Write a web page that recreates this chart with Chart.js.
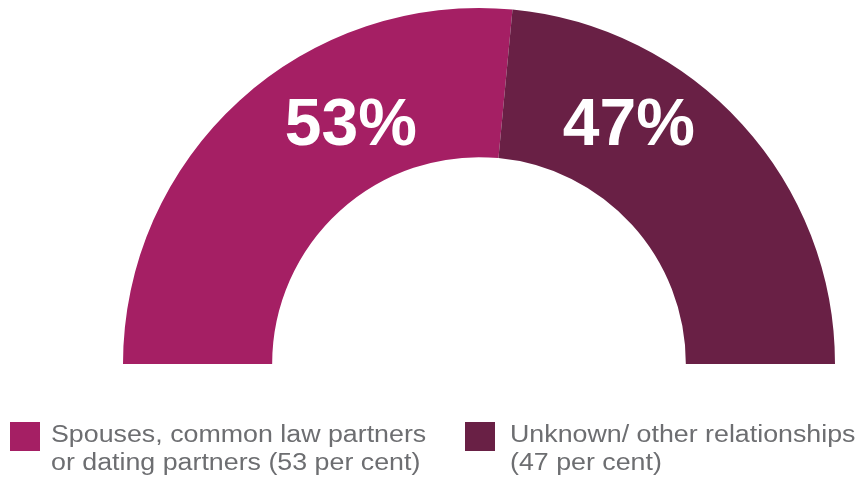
<!DOCTYPE html>
<html>
<head>
<meta charset="utf-8">
<script src="https://cdn.jsdelivr.net/npm/chart.js@4/dist/chart.umd.min.js"></script>
<style>
  html, body { margin: 0; padding: 0; background: #ffffff; }
  #wrap { position: relative; width: 862px; height: 478px; overflow: hidden; }
  #c { position: absolute; left: 0; top: 0; }
  .leg { position: absolute; font-family: "Liberation Sans", Arial, Helvetica, sans-serif; font-size: 23.5px; line-height: 28px; color: #6d6e71; white-space: nowrap; transform: scaleX(1.14); transform-origin: left top; }
  .sw { position: absolute; width: 30px; height: 29px; }
</style>
</head>
<body>
<div id="wrap">
  <canvas id="c" width="862" height="478"></canvas>
  <div id="legend"></div>
</div>
<script>
const categories = ["Spouses, common law partners or dating partners", "Unknown/ other relationships"];
const values = [53, 47];
const valueLabels = ["53%", "47%"];
const legendLines = [
  ["Spouses, common law partners", "or dating partners (53 per cent)"],
  ["Unknown/ other relationships", "(47 per cent)"]
];
const colors = ["#a51f64", "#692045"];

// label offsets relative to chart centre, as fractions of outer radius
const labelOffsets = [[-0.36, -0.68], [0.421, -0.68]];

const labelPlugin = {
  id: 'valueLabels',
  afterDatasetsDraw(chart) {
    const ctx = chart.ctx;
    const meta = chart.getDatasetMeta(0);
    ctx.save();
    ctx.fillStyle = '#ffffff';
    ctx.font = 'bold 66px "Liberation Sans", Arial, Helvetica, sans-serif';
    ctx.textAlign = 'center';
    ctx.textBaseline = 'alphabetic';
    meta.data.forEach((arc, i) => {
      const R = arc.outerRadius;
      const x = arc.x + labelOffsets[i][0] * R;
      const y = arc.y + labelOffsets[i][1] * R + 23;
      ctx.fillText(valueLabels[i], x, y);
    });
    ctx.restore();
  }
};

new Chart(document.getElementById('c'), {
  type: 'doughnut',
  data: {
    labels: categories,
    datasets: [{
      data: values,
      backgroundColor: colors,
      borderWidth: 0,
      hoverOffset: 0
    }]
  },
  options: {
    responsive: false,
    animation: false,
    rotation: -90,
    circumference: 180,
    cutout: '58.1%',
    layout: { padding: { left: 123, right: 27, top: 8, bottom: 114 } },
    plugins: { legend: { display: false }, tooltip: { enabled: false } },
    events: []
  },
  plugins: [labelPlugin]
});

// HTML legend
const legendPos = [[10, 51], [465, 510]];
const legend = document.getElementById('legend');
legendLines.forEach((lines, i) => {
  const sw = document.createElement('div');
  sw.className = 'sw';
  sw.style.left = legendPos[i][0] + 'px';
  sw.style.top = '422px';
  sw.style.background = colors[i];
  legend.appendChild(sw);
  const t = document.createElement('div');
  t.className = 'leg';
  t.style.left = legendPos[i][1] + 'px';
  t.style.top = '420px';
  t.innerHTML = lines.join('<br>');
  legend.appendChild(t);
});
</script>
</body>
</html>
